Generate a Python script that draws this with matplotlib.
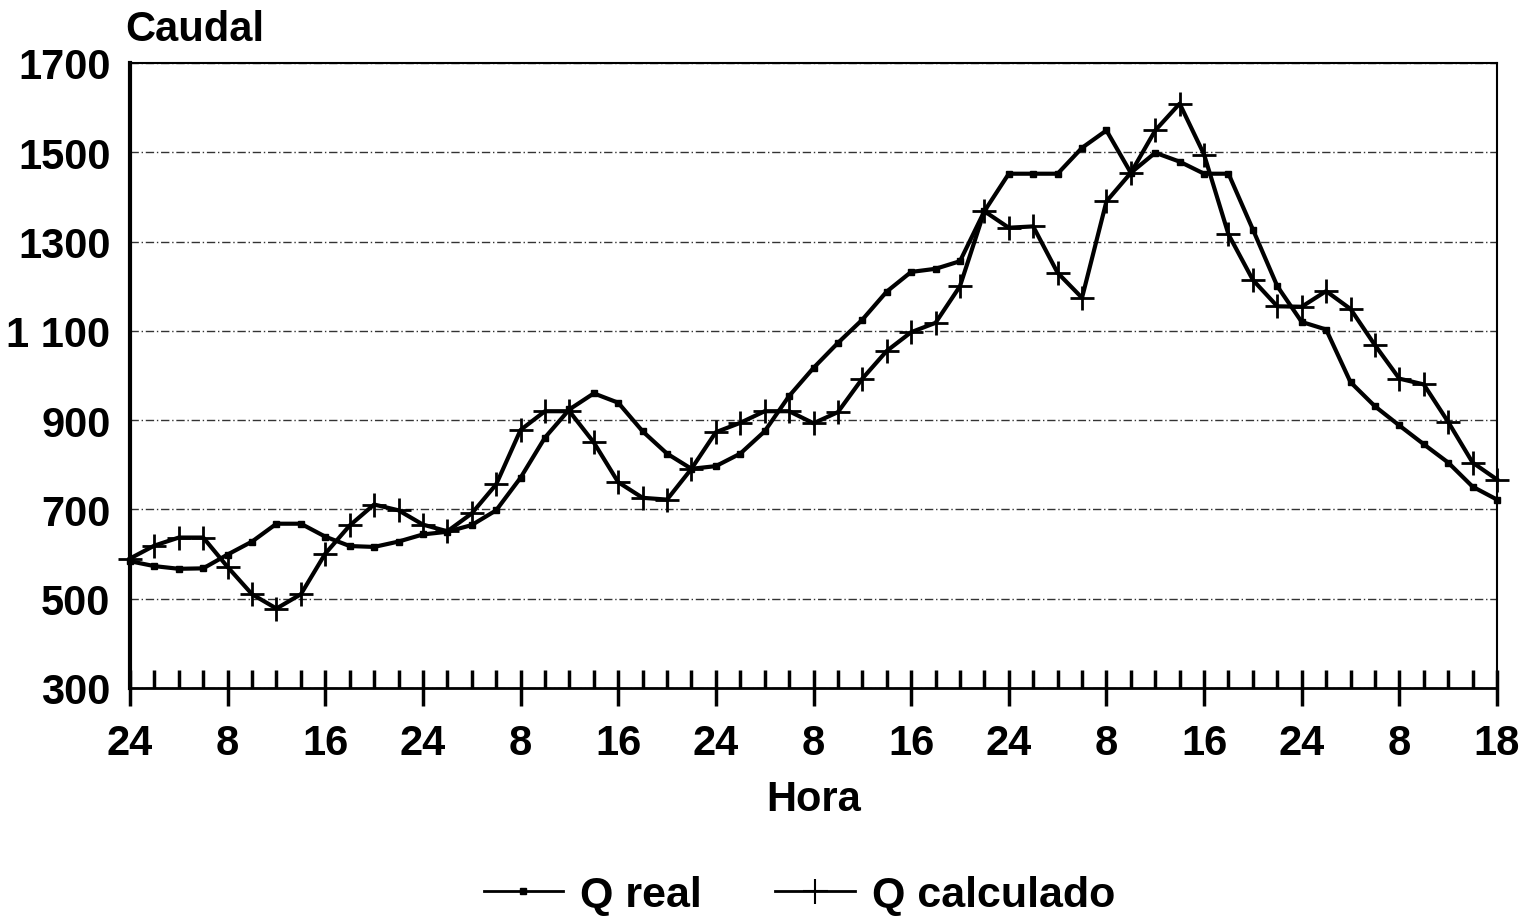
import matplotlib.pyplot as plt
import numpy as np
from matplotlib.lines import Line2D
from matplotlib.ticker import FixedLocator

# Caudal cada 2 horas
q_real = [584, 573, 567, 568, 599, 628, 668, 668, 639, 618, 616, 628, 644, 650, 665,
          698, 771, 861, 924, 960, 939, 875, 825, 791, 797, 825, 875, 954, 1017, 1073,
          1125, 1188, 1232, 1239, 1256, 1368, 1452, 1452, 1452, 1510, 1549, 1454, 1499,
          1479, 1452, 1452, 1327, 1200, 1120, 1103, 985, 931, 888, 846, 805, 751, 722]
q_calc = [590, 619, 637, 637, 571, 510, 478, 510, 601, 664, 711, 698, 666, 651, 691,
          756, 878, 920, 920, 850, 761, 726, 722, 791, 873, 894, 920, 920, 893, 918,
          993, 1055, 1097, 1118, 1200, 1368, 1331, 1334, 1230, 1174, 1390, 1454, 1549,
          1609, 1495, 1316, 1214, 1155, 1154, 1189, 1149, 1068, 993, 980, 896, 805, 767]
hour_labels = ["24", "8", "16", "24", "8", "16", "24", "8", "16", "24", "8", "16",
               "24", "8", "18"]
y_ticks = [300, 500, 700, 900, 1100, 1300, 1500, 1700]
y_labels = ["300", "500", "700", "900", "1 100", "1300", "1500", "1700"]

plt.rcParams["font.family"] = ["Liberation Sans", "DejaVu Sans"]
plt.rcParams["font.weight"] = "bold"

fig = plt.figure(figsize=(15.26, 9.2), dpi=100)
ax = fig.add_axes([130 / 1526, 1 - 689 / 920, 1367 / 1526, 625 / 920])

x = np.arange(len(q_real))
ax.plot(x, q_real, color="black", linewidth=3, marker="s", markersize=4.5,
        clip_on=False, zorder=3)
ax.plot(x, q_calc, color="black", linewidth=3, marker="+", markersize=17,
        markeredgewidth=2, clip_on=False, zorder=3)

ax.set_xlim(0, len(q_real) - 1)
ax.set_ylim(300, 1700)

ax.set_yticks(y_ticks)
ax.set_yticklabels(y_labels, fontsize=30, fontweight="bold")
ax.tick_params(axis="y", length=0, pad=14)

ax.xaxis.set_major_locator(FixedLocator(np.arange(0, len(q_real), 4)))
ax.set_xticklabels(hour_labels, fontsize=30, fontweight="bold")
ax.xaxis.set_minor_locator(FixedLocator(np.arange(0, len(q_real), 1)))
ax.tick_params(axis="x", which="major", direction="inout", length=26, width=2.5,
               pad=12)
ax.tick_params(axis="x", which="minor", direction="in", length=13, width=2.5)

ax.grid(axis="y", color="#333333", linestyle=(0, (6, 2, 1, 2)), linewidth=1)
ax.set_axisbelow(True)

ax.spines["left"].set_linewidth(3)
ax.spines["bottom"].set_linewidth(2)
ax.spines["top"].set_linewidth(1.5)
ax.spines["right"].set_linewidth(1.5)

ax.set_xlabel("Hora", fontsize=30, fontweight="bold", labelpad=12)
fig.text(125 / 1526, 1 - 30 / 920, "Caudal", fontsize=30, fontweight="bold",
         ha="left", va="center")

handles = [
    Line2D([], [], color="black", linewidth=2, marker="s", markersize=5),
    Line2D([], [], color="black", linewidth=2, marker="+", markersize=18,
           markeredgewidth=1.5),
]
fig.legend(handles, ["Q real", "Q calculado"], loc="center",
           bbox_to_anchor=(0.524, 1 - 896 / 920), ncol=2, frameon=False,
           fontsize=31, handlelength=1.85, handletextpad=0.4, columnspacing=1.7,
           borderpad=0.1)

fig.savefig("out.png", dpi=100)
